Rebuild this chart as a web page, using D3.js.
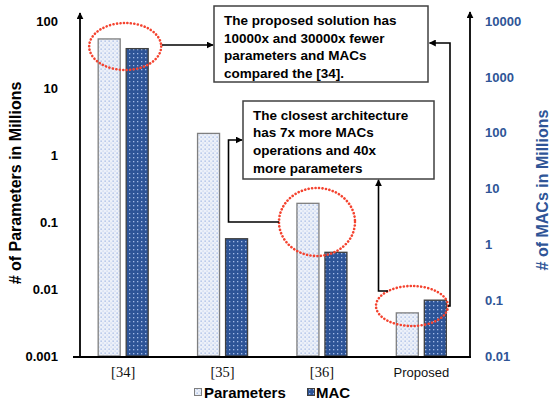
<!DOCTYPE html>
<html>
<head>
<meta charset="utf-8">
<script src="https://cdn.jsdelivr.net/npm/d3@7"></script>
<style>
  html, body { margin: 0; padding: 0; background: #fff; }
  svg { display: block; font-family: "Liberation Sans", Arial, sans-serif; }
</style>
</head>
<body>
<svg id="chart" width="552" height="404"></svg>
<script>
// Model size comparison (log scales, two axes)
const categories = ["[34]", "[35]", "[36]", "Proposed"];
const paramsMillions = [54, 2.1, 0.19, 0.0044];
const macsMillions = [3200, 1.26, 0.72, 0.1];
const leftTicks = [0.001, 0.01, 0.1, 1, 10, 100];
const rightTicks = [0.01, 0.1, 1, 10, 100, 1000, 10000];
const leftTickLabels = ["0.001", "0.01", "0.1", "1", "10", "100"];
const rightTickLabels = ["0.01", "0.1", "1", "10", "100", "1000", "10000"];
const seriesNames = ["Parameters", "MAC"];
const note1 = ["The proposed solution has", "10000x and 30000x fewer", "parameters and MACs", "compared the [34]."];
const note2 = ["The closest architecture", "has 7x more MACs", "operations and 40x", "more parameters"];

const svg = d3.select("#chart");
const blue = "#2F5597";
const baseY = 356, topY = 21;

const x = d3.scaleBand().domain(categories).range([73.5, 471]).paddingInner(0).paddingOuter(0);
const yL = d3.scaleLog().domain([0.001, 100]).range([baseY, topY]);
const yR = d3.scaleLog().domain([0.01, 10000]).range([baseY, topY]);

const defs = svg.append("defs");
// dotted fills
const pP = defs.append("pattern").attr("id", "pParam").attr("width", 4).attr("height", 4)
  .attr("patternUnits", "userSpaceOnUse");
pP.append("rect").attr("width", 4).attr("height", 4).attr("fill", "#EDF1F9");
pP.append("rect").attr("x", 0.5).attr("y", 0.5).attr("width", 1.3).attr("height", 1.3).attr("fill", "#9FB6E4");
pP.append("rect").attr("x", 2.5).attr("y", 2.5).attr("width", 1.2).attr("height", 1.2).attr("fill", "#C4D3EE");
const pM = defs.append("pattern").attr("id", "pMac").attr("width", 4).attr("height", 4)
  .attr("patternUnits", "userSpaceOnUse");
pM.append("rect").attr("width", 4).attr("height", 4).attr("fill", "#2D5497");
pM.append("rect").attr("x", 1).attr("y", 1).attr("width", 1.3).attr("height", 1.3).attr("fill", "#A3BBE8");

const mk = defs.append("marker").attr("id", "arr").attr("viewBox", "0 0 10 10")
  .attr("refX", 9).attr("refY", 5).attr("markerWidth", 7).attr("markerHeight", 7)
  .attr("markerUnits", "userSpaceOnUse").attr("orient", "auto");
mk.append("path").attr("d", "M0,0 L10,5 L0,10 Z").attr("fill", "#000");

// bars
const bw = 22, gap = 6;
const barG = svg.append("g");
categories.forEach((c, i) => {
  const cx = x(c) + x.bandwidth() / 2;
  barG.append("rect").attr("x", cx - gap / 2 - bw).attr("y", yL(paramsMillions[i]))
    .attr("width", bw).attr("height", baseY - yL(paramsMillions[i]))
    .attr("fill", "url(#pParam)").attr("stroke", "#7F7F7F").attr("stroke-width", 1.3);
  barG.append("rect").attr("x", cx + gap / 2).attr("y", yR(macsMillions[i]))
    .attr("width", bw).attr("height", baseY - yR(macsMillions[i]))
    .attr("fill", "url(#pMac)").attr("stroke", "#404040").attr("stroke-width", 1.3);
});

// axes
const axL = d3.axisLeft(yL).tickValues(leftTicks).tickSize(0).tickPadding(0)
  .tickFormat((d, i) => leftTickLabels[i]);
const gL = svg.append("g").attr("transform", "translate(58,0)").call(axL);
gL.select(".domain").remove();
gL.selectAll("text").attr("font-size", 13).attr("font-weight", "bold").attr("fill", "#000")
  .attr("font-family", "'Liberation Sans', Arial, sans-serif");

const axR = d3.axisRight(yR).tickValues(rightTicks).tickSize(0).tickPadding(0)
  .tickFormat((d, i) => rightTickLabels[i]);
const gR = svg.append("g").attr("transform", "translate(485,0)").call(axR);
gR.select(".domain").remove();
gR.selectAll("text").attr("font-size", 13).attr("font-weight", "bold").attr("fill", blue)
  .attr("font-family", "'Liberation Sans', Arial, sans-serif");

// axis lines with arrows
svg.append("line").attr("x1", 73).attr("x2", 471).attr("y1", baseY + 1).attr("y2", baseY + 1)
  .attr("stroke", "#000").attr("stroke-width", 2);
svg.append("line").attr("x1", 80).attr("x2", 80).attr("y1", baseY + 2).attr("y2", 13)
  .attr("stroke", "#000").attr("stroke-width", 1.8).attr("marker-end", "url(#arr)");
svg.append("line").attr("x1", 470).attr("x2", 470).attr("y1", baseY + 2).attr("y2", 12)
  .attr("stroke", "#000").attr("stroke-width", 1.8).attr("marker-end", "url(#arr)");

// category labels
svg.append("g").selectAll("text").data(categories).join("text")
  .attr("x", d => x(d) + x.bandwidth() / 2).attr("y", 377)
  .attr("text-anchor", "middle").attr("font-size", d => d === "Proposed" ? 13 : 14.5)
  .attr("fill", "#111")
  .attr("font-family", d => d === "Proposed" ? "'Liberation Sans', Arial, sans-serif" : "'Liberation Serif', 'Times New Roman', serif")
  .text(d => d);

// axis titles
svg.append("text").attr("transform", "translate(21,183) rotate(-90)").attr("text-anchor", "middle")
  .attr("font-size", 16).attr("font-weight", "bold").text("# of Parameters in Millions");
svg.append("text").attr("transform", "translate(548,190) rotate(-90)").attr("text-anchor", "middle")
  .attr("font-size", 16).attr("font-weight", "bold").attr("fill", blue).text("# of MACs in Millions");

// legend
const lg = svg.append("g");
lg.append("rect").attr("x", 194.5).attr("y", 388.5).attr("width", 7).attr("height", 7)
  .attr("fill", "url(#pParam)").attr("stroke", "#7F7F7F");
lg.append("text").attr("x", 204).attr("y", 398).attr("font-size", 15).attr("font-weight", "bold").text(seriesNames[0]);
lg.append("rect").attr("x", 307.5).attr("y", 388.5).attr("width", 7).attr("height", 7)
  .attr("fill", "url(#pMac)").attr("stroke", "#404040");
lg.append("text").attr("x", 316).attr("y", 398).attr("font-size", 15).attr("font-weight", "bold").text(seriesNames[1]);

// annotation boxes
function noteBox(x0, y0, w, h, lines, tx, ty) {
  svg.append("rect").attr("x", x0).attr("y", y0).attr("width", w).attr("height", h)
    .attr("fill", "#fff").attr("stroke", "#404040").attr("stroke-width", 1.5);
  svg.append("g").selectAll("text").data(lines).join("text")
    .attr("x", tx).attr("y", (d, i) => ty + i * 17.7)
    .attr("font-size", 13.5).attr("font-weight", "bold").text(d => d);
}
noteBox(214, 6, 214, 76, note1, 224, 25);
noteBox(243, 101, 191, 78, note2, 253, 119.5);

// highlight ellipses
const ell = [
  { cx: x("[34]") + x.bandwidth() / 2 + 2, cy: 46.5, rx: 36, ry: 23.5 },
  { cx: 317, cy: 222, rx: 38, ry: 34 },
  { cx: 412, cy: 306, rx: 36, ry: 20 }
];
svg.append("g").selectAll("ellipse").data(ell).join("ellipse")
  .attr("cx", d => d.cx).attr("cy", d => d.cy).attr("rx", d => d.rx).attr("ry", d => d.ry)
  .attr("fill", "none").attr("stroke", "#F4432F").attr("stroke-width", 2.6)
  .attr("stroke-dasharray", "0.1 3.4").attr("stroke-linecap", "round");

// connectors
const conn = [
  "M162,45 L213,45",
  "M279,222 L228.5,222 L228.5,140 L242,140",
  "M388,291 L378.5,291 L378.5,180",
  "M448,306 L450,306 L450,43 L429.5,43"
];
svg.append("g").selectAll("path").data(conn).join("path")
  .attr("d", d => d).attr("fill", "none").attr("stroke", "#000").attr("stroke-width", 1.6)
  .attr("marker-end", "url(#arr)");
</script>
</body>
</html>
